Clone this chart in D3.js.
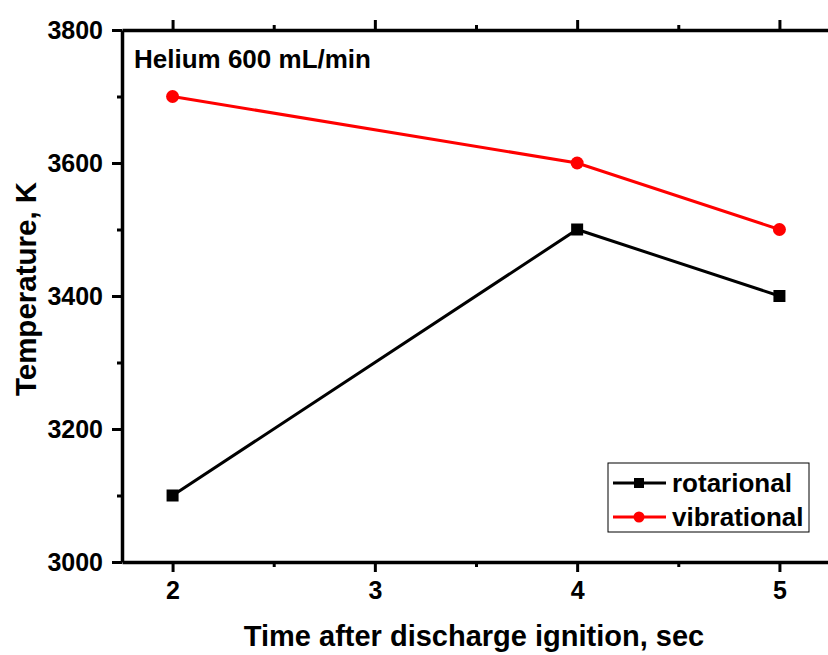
<!DOCTYPE html>
<html>
<head>
<meta charset="utf-8">
<script src="https://cdn.jsdelivr.net/npm/d3@7"></script>
<style>
  body { margin: 0; background: #fff; }
  svg text { font-family: Arial, "Liberation Sans", sans-serif; font-weight: bold; }
</style>
</head>
<body>
<div id="container"></div>
<script>
var times = [2, 4, 5];
var rotarional = [3100, 3500, 3400];
var vibrational = [3700, 3600, 3500];
var xTicks = [2, 3, 4, 5];
var xMinor = [2.5, 3.5, 4.5];
var yTicks = [3000, 3200, 3400, 3600, 3800];
var yMinor = [3100, 3300, 3500, 3700];
var seriesNames = ['rotarional', 'vibrational'];
var seriesColors = ['#000000', '#ff0000'];

(function(){
  var W = 828, H = 655,
    m = {left: 122, right: -2, top: 30, bottom: 93},
    svg = d3.select('#container').append('svg').attr('width', W).attr('height', H),
    x = d3.scaleLinear().domain([1.75, 5.25]).range([m.left, W - m.right]),
    y = d3.scaleLinear().domain([3000, 3800]).range([H - m.bottom, m.top]);

  var drawAxis = function(axis, transform, minor, minorAxis){
    var g = svg.append('g').attr('transform', transform);
    g.call(axis);
    g.select('.domain').attr('stroke-width', 3.5);
    g.selectAll('.tick line').attr('stroke-width', 3);
    g.selectAll('.tick text').attr('font-size', 25).attr('fill', '#000');
    var gm = svg.append('g').attr('transform', transform).call(minorAxis.tickValues(minor).tickFormat(''));
    gm.select('.domain').remove();
    gm.selectAll('.tick line').attr('stroke-width', 3);
    return g;
  };

  var plotH = H - m.bottom, plotR = W - m.right;
  // bottom
  drawAxis(d3.axisBottom(x).tickValues(xTicks).tickFormat(d3.format('d')).tickSize(10).tickSizeOuter(0).tickPadding(9),
    'translate(0,' + plotH + ')', xMinor, d3.axisBottom(x).tickSize(5));
  // top
  drawAxis(d3.axisTop(x).tickValues(xTicks).tickFormat('').tickSize(10).tickSizeOuter(0),
    'translate(0,' + m.top + ')', xMinor, d3.axisTop(x).tickSize(5));
  // left
  drawAxis(d3.axisLeft(y).tickValues(yTicks).tickFormat(d3.format('d')).tickSize(10).tickSizeOuter(0).tickPadding(9),
    'translate(' + m.left + ',0)', yMinor, d3.axisLeft(y).tickSize(5));
  // right
  drawAxis(d3.axisRight(y).tickValues(yTicks).tickFormat('').tickSize(10).tickSizeOuter(0),
    'translate(' + plotR + ',0)', yMinor, d3.axisRight(y).tickSize(5));

  var line = d3.line().x(function(d){ return x(d[0]); }).y(function(d){ return y(d[1]); });
  var series = [rotarional, vibrational].map(function(vals){
    return times.map(function(t, i){ return [t, vals[i]]; });
  });

  series.forEach(function(pts, i){
    svg.append('path').datum(pts).attr('d', line)
      .attr('fill', 'none').attr('stroke', seriesColors[i]).attr('stroke-width', 3);
    if(i === 0){
      svg.selectAll('.sq').data(pts).enter().append('rect')
        .attr('x', function(d){ return x(d[0]) - 6; })
        .attr('y', function(d){ return y(d[1]) - 6; })
        .attr('width', 12).attr('height', 12).attr('fill', seriesColors[i]);
    } else {
      svg.selectAll('.ci').data(pts).enter().append('circle')
        .attr('cx', function(d){ return x(d[0]); })
        .attr('cy', function(d){ return y(d[1]); })
        .attr('r', 6.5).attr('fill', seriesColors[i]);
    }
  });

  // titles
  svg.append('text').attr('x', 474).attr('y', 646)
    .attr('text-anchor', 'middle').attr('font-size', 29).text('Time after discharge ignition, sec');
  svg.append('text').attr('transform', 'translate(36,289) rotate(-90)')
    .attr('text-anchor', 'middle').attr('font-size', 29.5).text('Temperature, K');
  svg.append('text').attr('x', 134).attr('y', 68).attr('font-size', 26).text('Helium 600 mL/min');

  // legend
  var lg = svg.append('g').attr('transform', 'translate(608,463)');
  lg.append('rect').attr('width', 201).attr('height', 69)
    .attr('fill', '#fff').attr('stroke', '#000').attr('stroke-width', 1);
  seriesNames.forEach(function(name, i){
    var cy = 20 + i * 34;
    lg.append('line').attr('x1', 5).attr('x2', 58).attr('y1', cy).attr('y2', cy)
      .attr('stroke', seriesColors[i]).attr('stroke-width', 3);
    if(i === 0) lg.append('rect').attr('x', 26).attr('y', cy - 5).attr('width', 10).attr('height', 10).attr('fill', seriesColors[i]);
    else lg.append('circle').attr('cx', 31).attr('cy', cy).attr('r', 5.5).attr('fill', seriesColors[i]);
    lg.append('text').attr('x', 64).attr('y', cy + 9).attr('font-size', 26).text(name);
  });
})();
</script>
</body>
</html>
